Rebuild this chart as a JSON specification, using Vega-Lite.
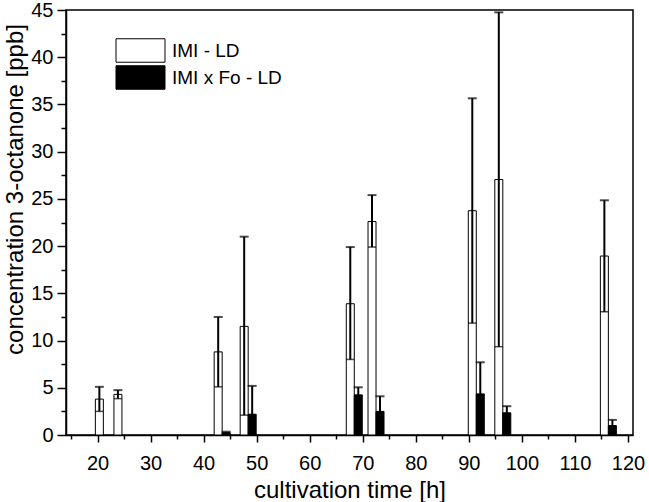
{
  "$schema": "https://vega.github.io/schema/vega-lite/v6.json",
  "width": 567,
  "height": 425,
  "autosize": {"type": "none"},
  "padding": {"left": 66, "top": 10, "right": 16, "bottom": 67},
  "background": "white",
  "config": {
    "font": "Liberation Sans",
    "view": {"stroke": "black", "strokeWidth": 1.5},
    "axis": {
      "domainColor": "black",
      "domainWidth": 1.5,
      "tickColor": "black",
      "tickWidth": 1.5,
      "labelColor": "black",
      "titleColor": "black",
      "labelFont": "Liberation Sans",
      "titleFont": "Liberation Sans",
      "labelFontSize": 20,
      "titleFontSize": 24,
      "titleFontWeight": "normal",
      "grid": false
    }
  },
  "data": {
    "values": [
      {"t": 21.1, "series": "IMI - LD", "mean": 3.8, "lo": 2.5, "hi": 5.1},
      {"t": 24.6, "series": "IMI - LD", "mean": 4.3, "lo": 3.85, "hi": 4.75},
      {"t": 43.5, "series": "IMI - LD", "mean": 8.8, "lo": 5.1, "hi": 12.5},
      {"t": 43.5, "series": "IMI x Fo - LD", "mean": 0.25, "lo": 0.15, "hi": 0.35},
      {"t": 48.4, "series": "IMI - LD", "mean": 11.5, "lo": 2.1, "hi": 21.0},
      {"t": 48.4, "series": "IMI x Fo - LD", "mean": 2.2, "lo": 0, "hi": 5.2},
      {"t": 68.4, "series": "IMI - LD", "mean": 13.9, "lo": 8.0, "hi": 19.9},
      {"t": 68.4, "series": "IMI x Fo - LD", "mean": 4.25, "lo": 3.45, "hi": 5.05},
      {"t": 72.5, "series": "IMI - LD", "mean": 22.6, "lo": 19.9, "hi": 25.4},
      {"t": 72.5, "series": "IMI x Fo - LD", "mean": 2.5, "lo": 0.9, "hi": 4.1},
      {"t": 91.4, "series": "IMI - LD", "mean": 23.75, "lo": 11.85, "hi": 35.65},
      {"t": 91.4, "series": "IMI x Fo - LD", "mean": 4.35, "lo": 1.0, "hi": 7.7},
      {"t": 96.4, "series": "IMI - LD", "mean": 27.05, "lo": 9.35, "hi": 44.75},
      {"t": 96.4, "series": "IMI x Fo - LD", "mean": 2.35, "lo": 1.65, "hi": 3.05},
      {"t": 116.3, "series": "IMI - LD", "mean": 18.95, "lo": 13.05, "hi": 24.85},
      {"t": 116.3, "series": "IMI x Fo - LD", "mean": 1.0, "lo": 0.4, "hi": 1.6}
    ]
  },
  "encoding": {
    "x": {
      "field": "t",
      "type": "quantitative",
      "scale": {"domain": [15, 120], "nice": false, "zero": false},
      "axis": {
        "title": "cultivation time [h]",
        "values": [15, 20, 25, 30, 35, 40, 45, 50, 55, 60, 65, 70, 75, 80, 85, 90, 95, 100, 105, 110, 115, 120],
        "labelExpr": "datum.value % 10 === 0 ? datum.label : ''",
        "tickSize": {"condition": {"test": "datum.value % 10 === 0", "value": 7}, "value": 4},
        "labelPadding": 11,
        "titlePadding": 5
      }
    },
    "y": {
      "field": "mean",
      "type": "quantitative",
      "scale": {"domain": [0, 45], "nice": false},
      "axis": {
        "title": "concentration 3-octanone [ppb]",
        "values": [0, 2.5, 5, 7.5, 10, 12.5, 15, 17.5, 20, 22.5, 25, 27.5, 30, 32.5, 35, 37.5, 40, 42.5, 45],
        "labelExpr": "datum.value % 5 === 0 ? datum.label : ''",
        "tickSize": {"condition": {"test": "datum.value % 5 === 0", "value": 9}, "value": 5},
        "labelPadding": 4,
        "titlePadding": 3,
        "titleY": 179
      }
    }
  },
  "layer": [
    {
      "transform": [{"filter": "datum.series === 'IMI - LD'"}],
      "mark": {"type": "bar", "width": 8, "xOffset": -4, "stroke": "black", "strokeWidth": 1},
      "encoding": {
        "fill": {
          "field": "series",
          "type": "nominal",
          "scale": {"domain": ["IMI - LD", "IMI x Fo - LD"], "range": ["white", "black"]},
          "legend": {
            "title": null,
            "orient": "none",
            "legendX": 62,
            "legendY": 28,
            "symbolType": "M-2.085,-1H2.085V1H-2.085Z",
            "symbolSize": 552,
            "symbolStrokeColor": "black",
            "symbolStrokeWidth": 1,
            "symbolOpacity": 1,
            "labelFontSize": 19,
            "labelFont": "Liberation Sans",
            "labelColor": "black",
            "rowPadding": -2,
            "labelOffset": 19
          }
        }
      }
    },
    {
      "transform": [{"filter": "datum.series === 'IMI x Fo - LD'"}],
      "mark": {"type": "bar", "width": 8, "xOffset": 4, "stroke": "black", "strokeWidth": 1},
      "encoding": {
        "fill": {"field": "series", "type": "nominal"}
      }
    },
    {
      "transform": [{"filter": "datum.series === 'IMI - LD'"}],
      "mark": {"type": "rule", "xOffset": -4, "color": "black", "strokeWidth": 2},
      "encoding": {"y": {"field": "lo", "type": "quantitative"}, "y2": {"field": "hi"}}
    },
    {
      "transform": [{"filter": "datum.series === 'IMI x Fo - LD'"}],
      "mark": {"type": "rule", "xOffset": 4, "color": "black", "strokeWidth": 2},
      "encoding": {"y": {"field": "lo", "type": "quantitative"}, "y2": {"field": "hi"}}
    },
    {
      "transform": [{"filter": "datum.series === 'IMI - LD'"}],
      "mark": {"type": "tick", "orient": "horizontal", "xOffset": -4, "size": 9, "thickness": 2, "color": "black"},
      "encoding": {"y": {"field": "hi", "type": "quantitative"}}
    },
    {
      "transform": [{"filter": "datum.series === 'IMI - LD'"}],
      "mark": {"type": "tick", "orient": "horizontal", "xOffset": -4, "size": 8, "thickness": 1.5, "color": "black"},
      "encoding": {"y": {"field": "lo", "type": "quantitative"}}
    },
    {
      "transform": [{"filter": "datum.series === 'IMI x Fo - LD'"}],
      "mark": {"type": "tick", "orient": "horizontal", "xOffset": 4, "size": 9, "thickness": 2, "color": "black"},
      "encoding": {"y": {"field": "hi", "type": "quantitative"}}
    }
  ]
}
